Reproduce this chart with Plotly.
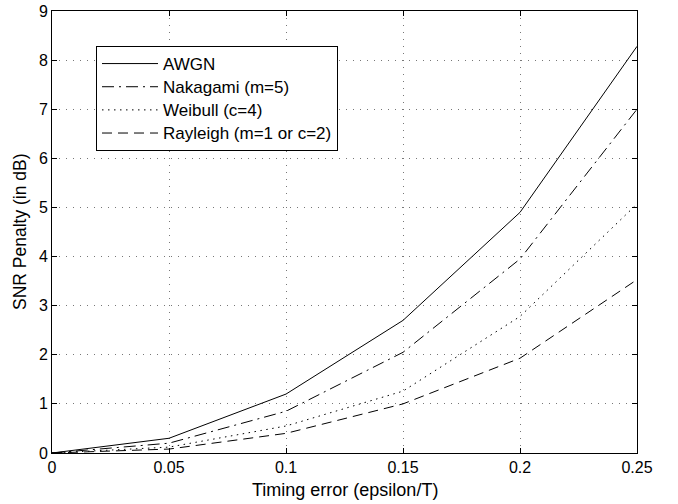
import plotly.graph_objects as go

x_vals = [0, 0.05, 0.1, 0.15, 0.2, 0.25]
awgn = [0, 0.3, 1.2, 2.7, 4.9, 8.28]
nakagami = [0, 0.2, 0.85, 2.05, 3.95, 7.0]
weibull = [0, 0.12, 0.55, 1.26, 2.78, 5.07]
rayleigh = [0, 0.08, 0.4, 1.0, 1.93, 3.53]

names = ["AWGN", "Nakagami (m=5)", "Weibull (c=4)", "Rayleigh (m=1 or c=2)"]
series = [awgn, nakagami, weibull, rayleigh]
dashes = ["solid", "12px,5px,2px,5px", "1.5px,4.5px", "10px,6px"]

x_tickvals = [0, 0.05, 0.1, 0.15, 0.2, 0.25]
x_ticktext = ["0", "0.05", "0.1", "0.15", "0.2", "0.25"]

fig = go.Figure()
for i, (n, s, d) in enumerate(zip(names, series, dashes)):
    fig.add_trace(go.Scatter(x=x_vals, y=s, mode="lines",
                             name='<span style="font-size:17px">' + n + '</span>',
                             hovertext=n, legendgroup=str(i),
                             line=dict(color="black", width=1, dash=d)))

font = "Liberation Sans, Arial, Helvetica, sans-serif"
W, H = 678, 504
L, R, T, B = 52, 41, 11, 51
pw, ph = W - L - R, H - T - B
PX0, PY1 = L, H - B


def px(x):
    return (x - PX0) / pw


def py(y):
    return (PY1 - y) / ph


axis_common = dict(showline=True, linecolor="black", linewidth=1, mirror="ticks",
                   ticks="inside", ticklen=5, tickcolor="black", automargin=False,
                   ticklabeloverflow="allow",
                   showgrid=True, gridcolor="#777", griddash="1px,6px", gridwidth=1,
                   zeroline=False, tickfont=dict(size=16, color="black", family=font))

fig.update_layout(
    width=W, height=H,
    margin=dict(l=L, r=R, t=T, b=B, autoexpand=False),
    paper_bgcolor="white", plot_bgcolor="white",
    font=dict(family=font, color="black", size=16),
    xaxis=dict(range=[0, 0.25], tickvals=x_tickvals, ticktext=x_ticktext,
               ticklabelstandoff=0, **axis_common),
    yaxis=dict(range=[0, 9], dtick=1, **axis_common),
    legend=dict(x=px(96), y=py(46), xanchor="left", yanchor="top",
                bgcolor="white", bordercolor="black", borderwidth=1,
                font=dict(size=15.5, family=font), traceorder="grouped", tracegroupgap=0,
                itemwidth=56),
    showlegend=True,
    annotations=[
        dict(text="Timing error (epsilon/T)", xref="paper", yref="paper",
             x=0.5, y=py(490), xanchor="center", yanchor="middle",
             showarrow=False, font=dict(size=18, family=font, color="black")),
        dict(text="SNR Penalty (in dB)", xref="paper", yref="paper",
             x=px(20), y=0.5, xanchor="center", yanchor="middle",
             textangle=-90, showarrow=False, font=dict(size=17.5, family=font, color="black")),
    ],
)

fig.write_html("out.html", config={"displayModeBar": False},
               post_script="document.body.style.margin='0px';document.body.style.overflow='hidden';")
